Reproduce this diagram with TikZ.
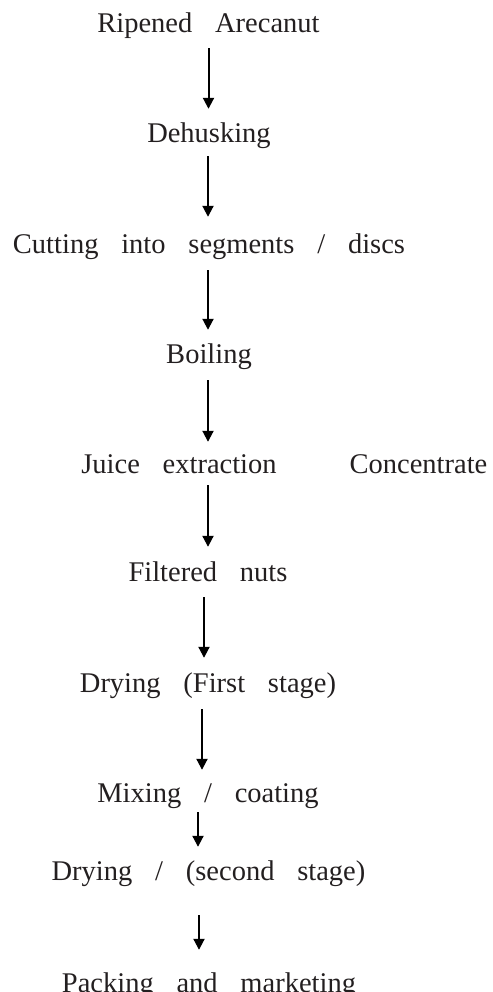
\documentclass[tikz,border=0pt]{standalone}
\usepackage{fontspec}
\setmainfont{Liberation Serif}[WordSpace=3.2]
\usetikzlibrary{arrows.meta}
\definecolor{cText}{HTML}{231F20}

\begin{document}
\begin{tikzpicture}[x=1pt,y=-1pt,
      stage/.style={anchor=base,inner sep=0pt,text height=18pt,text depth=0pt,
        text=cText,font=\fontsize{28.5}{32}\selectfont},
      flow/.style={-{Triangle[length=11pt,width=11pt]},line width=2pt}]
    \useasboundingbox (0,0) rectangle (492,992);
    \node[stage] (ra) at (208.5,33) {Ripened Arecanut};
    \node[stage] (dh) at (209,143) {Dehusking};
    \node[stage] (cut) at (209,253) {Cutting into segments / discs};
    \node[stage] (boil) at (209,363) {Boiling};
    \node[stage] (juice) at (179,473) {Juice extraction};
    \node[stage] (conc) at (418.5,473) {Concentrate};
    \node[stage] (fn) at (208,581) {Filtered nuts};
    \node[stage] (dr1) at (208,692) {Drying (First stage)};
    \node[stage] (mix) at (208,802) {Mixing / coating};
    \node[stage] (dr2) at (208.5,880) {Drying / (second stage)};
    \node[stage] (pk) at (209,992) {Packing and marketing};
    \foreach \a/\b/\dx/\s/\e in {ra/dh/0/15/16, dh/cut/-1/13/18, cut/boil/-1/17/15,
        boil/juice/-1/17/13, juice/fn/29/12/16, fn/dr1/-4/16/16, dr1/mix/-6/17/14,
        mix/dr2/-10/10/15, dr2/pk/-9.5/35/24}
      \draw[flow,shorten <=\s pt,shorten >=\e pt] ([xshift=\dx pt]\a.south) -- ([xshift=\dx pt]\a.south |- \b.north);
  \end{tikzpicture}
\end{document}
